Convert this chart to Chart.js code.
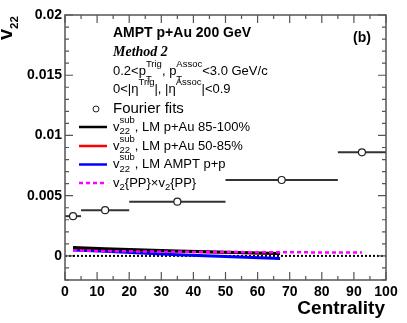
<!DOCTYPE html>
<html>
<head>
<meta charset="utf-8">
<script src="https://cdn.jsdelivr.net/npm/chart.js@4.4.0/dist/chart.umd.min.js"></script>
<style>
  body { margin: 0; background: #fff; }
  canvas { display: block; }
</style>
</head>
<body>
<canvas id="chart" width="407" height="323"></canvas>
<script>
// Fourier fits, one point per centrality bin
const centrality = [2.5, 12.5, 35, 67.5, 92.5];
const binLow = [0, 5, 20, 50, 85];
const binHigh = [5, 20, 50, 85, 100];
const fourierV22 = [0.0033, 0.0038, 0.0045, 0.0063, 0.0086];

// LM subtracted v22 curves
const lmCentrality = [2.5, 12.5, 35, 67];
const lmPAu85100 = [0.0007, 0.0006, 0.0004, 0.0002];
const lmPAu5085 = [0.00066, 0.00056, 0.00037, 0.00018];
const lmAmptPP = [0.0005, 0.00038, 0.0001, -0.00022];

// v2{PP} x v2{PP}
const ppCentrality = [2.5, 12.5, 35, 67.5, 92.5];
const ppProduct = [0.00045, 0.0004, 0.00034, 0.0003, 0.00028];

const zeroX = [0, 100];
const zeroY = [0, 0];

const xTicks = [0, 10, 20, 30, 40, 50, 60, 70, 80, 90, 100];
const xTickLabels = ['0', '10', '20', '30', '40', '50', '60', '70', '80', '90', '100'];
const yTicks = [0, 0.005, 0.01, 0.015, 0.02];
const yTickLabels = ['0', '0.005', '0.01', '0.015', '0.02'];

const SANS = "'Liberation Sans', Arial, Helvetica, sans-serif";
const SERIF = "'Liberation Serif', 'Times New Roman', serif";

const pts = (xs, ys) => xs.map((x, i) => ({ x: x, y: ys[i] }));

// text with ROOT-like sub/superscripts
function richText(ctx, x, y, parts, size, small, supOff, subOff) {
  ctx.textAlign = 'left';
  ctx.textBaseline = 'alphabetic';
  for (const p of parts) {
    if (typeof p === 'string') {
      ctx.font = size + 'px ' + SANS;
      ctx.fillText(p, x, y);
      x += ctx.measureText(p).width;
    } else {
      ctx.font = small + 'px ' + SANS;
      let w = 0;
      if (p.sup) { ctx.fillText(p.sup, x, y - supOff); w = Math.max(w, ctx.measureText(p.sup).width); }
      if (p.sub) { ctx.fillText(p.sub, x, y + subOff); w = Math.max(w, ctx.measureText(p.sub).width); }
      x += w;
    }
  }
}

const rootDecor = {
  id: 'rootDecor',
  beforeDatasetsDraw(chart) {
    const ctx = chart.ctx, xs = chart.scales.x, ys = chart.scales.y;
    ctx.save();
    ctx.strokeStyle = '#333';
    ctx.lineWidth = 2;
    centrality.forEach((c, i) => {
      const py = ys.getPixelForValue(fourierV22[i]);
      ctx.beginPath();
      ctx.moveTo(xs.getPixelForValue(binLow[i]), py);
      ctx.lineTo(xs.getPixelForValue(binHigh[i]), py);
      ctx.stroke();
    });
    ctx.restore();
  },
  afterDraw(chart) {
    const ctx = chart.ctx, a = chart.chartArea, xs = chart.scales.x, ys = chart.scales.y;
    ctx.save();

    // frame + inward ticks on all four sides
    ctx.strokeStyle = '#555';
    ctx.lineWidth = 1.5;
    ctx.strokeRect(a.left, a.top, a.right - a.left, a.bottom - a.top);
    ctx.lineWidth = 1.2;
    ctx.beginPath();
    for (let c = 0; c <= 100; c += 5) {
      const px = xs.getPixelForValue(c);
      const len = c % 10 === 0 ? 8 : 4;
      ctx.moveTo(px, a.bottom); ctx.lineTo(px, a.bottom - len);
      ctx.moveTo(px, a.top); ctx.lineTo(px, a.top + len);
    }
    for (let k = -2; k <= 20; k++) {
      const py = ys.getPixelForValue(k / 1000);
      const len = k % 5 === 0 ? 8 : 4;
      ctx.moveTo(a.left, py); ctx.lineTo(a.left + len, py);
      ctx.moveTo(a.right, py); ctx.lineTo(a.right - len, py);
    }
    ctx.stroke();

    ctx.fillStyle = '#000';

    // axis titles
    ctx.font = 'bold 19px ' + SANS;
    ctx.textAlign = 'right';
    ctx.fillText('Centrality', 385, 314);

    ctx.save();
    ctx.translate(12, 40);
    ctx.rotate(-Math.PI / 2);
    ctx.textAlign = 'left';
    ctx.font = 'bold 20px ' + SANS;
    ctx.fillText('v', 0, 0);
    const vw = ctx.measureText('v').width;
    ctx.font = 'bold 11.5px ' + SANS;
    ctx.fillText('22', vw, 6.3);
    ctx.restore();

    // header
    ctx.textAlign = 'left';
    ctx.font = 'bold 14px ' + SANS;
    ctx.fillText('AMPT p+Au 200 GeV', 113, 36.5);
    ctx.fillText('(b)', 353, 41.5);
    ctx.font = 'italic bold 14px ' + SERIF;
    ctx.fillText('Method 2', 113, 56);
    richText(ctx, 113, 75, ['0.2<p', { sup: 'Trig', sub: 'T' }, ', p', { sup: 'Assoc', sub: 'T' }, '<3.0 GeV/c'], 13, 9.5, 8, 6.5);
    richText(ctx, 113, 93, ['0<|\u03b7', { sup: 'Trig' }, '|, |\u03b7', { sup: 'Assoc' }, '|<0.9'], 13, 9.5, 8, 6.5);

    // legend
    ctx.beginPath();
    ctx.arc(96, 109, 3, 0, Math.PI * 2);
    ctx.fillStyle = '#fff';
    ctx.fill();
    ctx.strokeStyle = '#222';
    ctx.lineWidth = 1;
    ctx.stroke();
    ctx.fillStyle = '#000';
    ctx.font = '15px ' + SANS;
    ctx.fillText('Fourier fits', 113, 113.3);

    const entries = [
      { color: '#000', dash: [], y: 127, text: ', LM p+Au 85-100%' },
      { color: '#ff0000', dash: [], y: 146, text: ', LM p+Au 50-85%' },
      { color: '#0000ff', dash: [], y: 164.5, text: ', LM AMPT p+p' }
    ];
    entries.forEach(e => {
      ctx.strokeStyle = e.color;
      ctx.lineWidth = 2.5;
      ctx.setLineDash(e.dash);
      ctx.beginPath();
      ctx.moveTo(79, e.y); ctx.lineTo(107, e.y);
      ctx.stroke();
      richText(ctx, 113, e.y + 3.7, ['v', { sup: 'sub', sub: '22' }, e.text], 13, 9.5, 8, 3.5);
    });
    ctx.strokeStyle = '#ff00ff';
    ctx.lineWidth = 2.5;
    ctx.setLineDash([4, 3]);
    ctx.beginPath();
    ctx.moveTo(79, 183); ctx.lineTo(107, 183);
    ctx.stroke();
    ctx.setLineDash([]);
    richText(ctx, 113, 186.7, ['v', { sub: '2' }, '{PP}\u00d7v', { sub: '2' }, '{PP}'], 13, 9.5, 8, 3.5);

    ctx.restore();
  }
};

new Chart(document.getElementById('chart'), {
  type: 'scatter',
  data: {
    datasets: [
      {
        label: 'Fourier fits',
        data: pts(centrality, fourierV22),
        pointRadius: 3.5,
        pointBackgroundColor: '#fff',
        pointBorderColor: '#222',
        pointBorderWidth: 1.2,
        order: 0
      },
      {
        label: 'v2{PP}xv2{PP}',
        data: pts(ppCentrality, ppProduct),
        showLine: true,
        borderColor: '#ff00ff',
        borderWidth: 2.5,
        borderDash: [4, 3],
        pointRadius: 0,
        order: 1
      },
      {
        label: 'LM p+Au 85-100%',
        data: pts(lmCentrality, lmPAu85100),
        showLine: true,
        borderColor: '#000',
        borderWidth: 3,
        pointRadius: 0,
        order: 2
      },
      {
        label: 'LM p+Au 50-85%',
        data: pts(lmCentrality, lmPAu5085),
        showLine: true,
        borderColor: '#ff0000',
        borderWidth: 2.5,
        pointRadius: 0,
        order: 3
      },
      {
        label: 'LM AMPT p+p',
        data: pts(lmCentrality, lmAmptPP),
        showLine: true,
        borderColor: '#0000ff',
        borderWidth: 3,
        pointRadius: 0,
        order: 4
      },
      {
        label: 'zero',
        data: pts(zeroX, zeroY),
        showLine: true,
        borderColor: '#000',
        borderWidth: 2,
        borderDash: [2, 2],
        pointRadius: 0,
        order: 5
      }
    ]
  },
  options: {
    responsive: false,
    animation: false,
    devicePixelRatio: 1,
    layout: { padding: { top: 15, right: 21, left: 0, bottom: 0 } },
    plugins: { legend: { display: false }, tooltip: { enabled: false } },
    scales: {
      x: {
        type: 'linear',
        min: 0,
        max: 100,
        grid: { display: false, drawTicks: false },
        border: { display: false },
        afterBuildTicks: s => { s.ticks = xTicks.map(v => ({ value: v })); },
        afterFit: s => { s.height = 43; },
        ticks: {
          autoSkip: false,
          maxRotation: 0,
          padding: 4,
          color: '#000',
          font: { family: SANS, size: 14, weight: 'bold' },
          callback: (v, i) => xTickLabels[i]
        }
      },
      y: {
        type: 'linear',
        min: -0.002,
        max: 0.02,
        grid: { display: false, drawTicks: false },
        border: { display: false },
        afterBuildTicks: s => { s.ticks = yTicks.map(v => ({ value: v })); },
        afterFit: s => { s.width = 65; },
        ticks: {
          autoSkip: false,
          padding: 3,
          color: '#000',
          font: { family: SANS, size: 14, weight: 'bold' },
          callback: (v, i) => yTickLabels[i]
        }
      }
    }
  },
  plugins: [rootDecor]
});
</script>
</body>
</html>
